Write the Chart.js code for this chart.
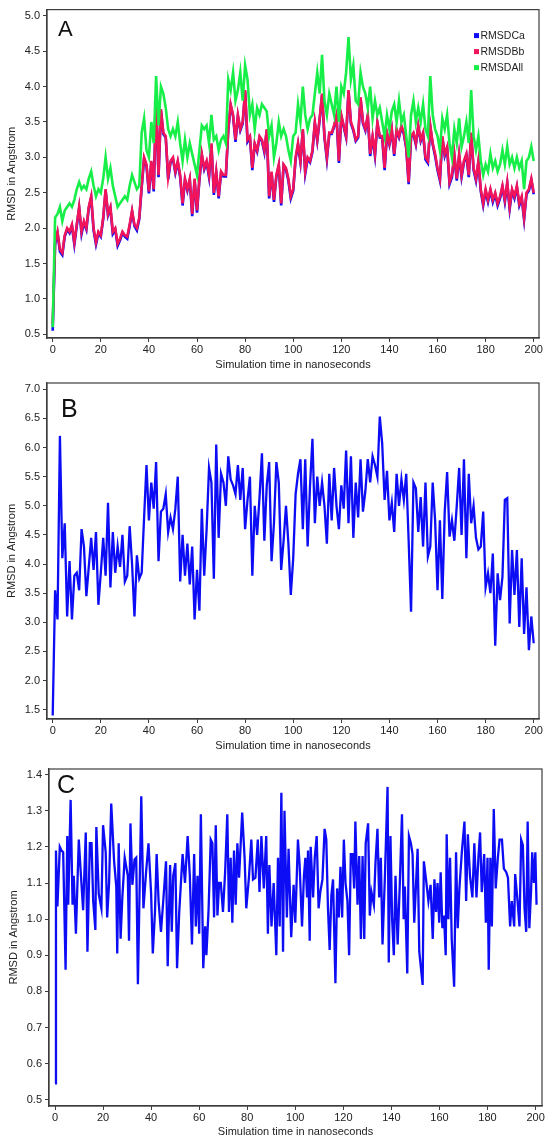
<!DOCTYPE html>
<html>
<head>
<meta charset="utf-8">
<script src="https://cdn.jsdelivr.net/npm/chart.js@4.4.1/dist/chart.umd.min.js"></script>
<style>
  body { margin: 0; background: #fff; }
  .panel { position: absolute; left: 0; width: 550px; }
  #boxA { top: 0; height: 372px; }
  #boxB { top: 372px; height: 381px; }
  #boxC { top: 753px; height: 390px; }
</style>
</head>
<body>
<div class="panel" id="boxA"><canvas id="chartA"></canvas></div>
<div class="panel" id="boxB"><canvas id="chartB"></canvas></div>
<div class="panel" id="boxC"><canvas id="chartC"></canvas></div>
<script>
/////////---------DATA--------////////////////
// panel A and B: one frame per nanosecond, 0..200
const timeNs = Array.from({ length: 201 }, (_, i) => i);

const rmsdCa = [
  0.55,1.78,1.93,1.67,1.62,1.88,1.98,1.93,2.03,1.77,
  2.03,2.28,1.92,2.08,1.98,2.28,2.43,1.97,1.77,1.93,
  1.88,2.13,2.53,2.18,2.28,1.92,1.98,1.75,1.83,1.93,
  1.88,1.85,2.03,2.23,2.03,1.97,2.13,2.58,2.98,2.88,
  2.49,2.93,2.52,3.8,2.72,3.66,3.33,3.28,2.69,2.93,
  2.98,2.78,2.93,2.72,2.32,2.68,2.53,2.68,2.17,2.68,
  2.22,2.68,3.03,2.83,2.93,2.72,3.18,2.47,2.78,2.42,
  2.78,2.73,2.73,3.38,3.73,3.58,3.22,3.58,3.38,3.48,
  3.93,3.22,3.28,2.82,3.18,3.08,3.28,3.23,3.07,3.38,
  2.42,2.78,2.37,2.73,2.88,2.32,2.88,2.83,2.67,2.42,
  2.53,2.98,3.18,2.93,3.38,2.77,2.98,2.93,3.08,3.48,
  3.23,3.53,3.88,3.28,2.97,3.33,3.33,3.43,3.58,2.92,
  3.58,3.43,3.28,3.93,3.48,3.38,3.23,3.28,3.83,3.48,
  3.38,3.58,3.02,3.28,3.02,3.48,3.28,3.28,2.82,3.33,
  3.18,3.38,3.02,3.38,3.28,3.43,3.33,3.13,2.62,3.28,
  3.33,3.18,3.43,3.23,3.33,2.97,2.92,3.43,3.18,3.02,
  2.82,2.67,3.28,3.02,3.13,2.62,2.72,3.02,2.67,3.02,
  2.72,2.93,3.03,2.72,3.33,2.82,2.67,2.93,2.52,2.32,
  2.52,2.37,2.53,2.37,2.48,2.32,2.42,2.58,2.37,2.63,
  2.27,2.53,2.42,2.58,2.32,2.42,2.12,2.48,2.53,2.68,
  2.48
];

const rmsdBb = [
  0.65,1.8,1.95,1.7,1.65,1.9,2.0,1.95,2.05,1.8,
  2.05,2.3,1.95,2.1,2.0,2.3,2.45,2.0,1.8,1.95,
  1.9,2.15,2.55,2.2,2.3,1.95,2.0,1.78,1.85,1.95,
  1.9,1.88,2.05,2.25,2.05,2.0,2.15,2.6,3.0,2.9,
  2.52,2.95,2.55,3.82,2.75,3.68,3.35,3.3,2.72,2.95,
  3.0,2.8,2.95,2.75,2.35,2.7,2.55,2.7,2.2,2.7,
  2.25,2.7,3.05,2.85,2.95,2.75,3.2,2.5,2.8,2.45,
  2.8,2.75,2.75,3.4,3.75,3.6,3.25,3.6,3.4,3.5,
  3.95,3.25,3.3,2.85,3.2,3.1,3.3,3.25,3.1,3.4,
  2.45,2.8,2.4,2.75,2.9,2.35,2.9,2.85,2.7,2.45,
  2.55,3.0,3.2,2.95,3.4,2.8,3.0,2.95,3.1,3.5,
  3.25,3.55,3.9,3.3,3.0,3.35,3.35,3.45,3.6,2.95,
  3.6,3.45,3.3,3.95,3.5,3.4,3.25,3.3,3.85,3.5,
  3.4,3.6,3.05,3.3,3.05,3.5,3.3,3.3,2.85,3.35,
  3.2,3.4,3.05,3.4,3.3,3.45,3.35,3.15,2.65,3.3,
  3.35,3.2,3.45,3.25,3.35,3.0,2.95,3.45,3.2,3.05,
  2.85,2.7,3.3,3.05,3.15,2.65,2.75,3.05,2.7,3.05,
  2.75,2.95,3.05,2.75,3.35,2.85,2.7,2.95,2.55,2.35,
  2.55,2.4,2.55,2.4,2.5,2.35,2.45,2.6,2.4,2.65,
  2.3,2.55,2.45,2.6,2.35,2.45,2.15,2.5,2.55,2.7,
  2.5
];

const rmsdAll = [
  0.6,2.15,2.2,2.3,2.1,2.25,2.3,2.35,2.3,2.4,
  2.55,2.65,2.55,2.6,2.55,2.7,2.8,2.6,2.45,2.55,
  2.5,2.7,3.0,2.7,2.85,2.6,2.45,2.3,2.35,2.4,
  2.45,2.4,2.6,2.75,2.65,2.55,2.6,3.35,3.55,3.1,
  3.0,3.5,3.2,4.15,3.45,4.0,3.9,3.7,3.4,3.3,
  3.4,3.3,3.5,3.2,2.95,3.25,3.0,3.2,3.05,2.9,
  2.75,3.1,3.45,3.4,3.45,3.2,3.6,3.25,3.3,3.1,
  3.25,3.3,3.2,4.1,3.95,4.2,3.8,3.95,4.2,3.8,
  4.3,4.1,3.6,3.75,3.4,3.7,3.6,3.75,3.7,3.65,
  3.3,3.45,3.0,3.2,3.5,3.3,3.4,3.3,3.1,2.95,
  3.3,3.35,3.75,3.5,4.0,3.6,3.4,3.55,3.6,3.9,
  4.2,3.9,4.45,3.8,3.6,3.9,3.75,3.6,4.0,3.5,
  4.0,3.9,4.2,4.7,4.1,4.3,3.8,3.75,4.2,4.0,
  3.9,3.7,4.0,3.55,3.8,3.6,3.7,3.5,3.3,3.6,
  3.4,3.65,3.75,3.5,3.8,3.5,3.6,3.3,3.0,3.6,
  3.8,3.5,3.7,3.5,3.75,3.4,3.3,4.15,3.6,3.4,
  3.3,3.1,3.55,3.4,3.6,3.2,3.0,3.4,3.2,3.55,
  3.15,3.3,3.5,3.2,3.95,3.3,3.1,3.3,2.95,2.75,
  2.9,2.8,3.05,2.85,2.95,2.8,2.9,3.1,2.9,3.15,
  2.9,3.0,2.85,3.0,2.85,2.95,2.55,2.95,3.0,3.15,
  2.95
];

const rmsdB = [
  1.4,3.55,3.05,6.2,4.1,4.7,3.1,4.05,3.05,3.8,
  3.85,3.55,4.6,4.3,3.45,3.95,4.45,3.9,4.55,3.3,
  3.85,4.45,3.8,5.05,3.6,4.55,3.85,4.3,3.95,4.5,
  3.7,3.8,4.65,4.0,3.1,4.15,3.75,3.85,4.8,5.7,
  4.75,5.4,4.95,5.75,4.05,4.9,4.95,5.2,4.55,4.8,
  4.6,4.95,5.5,3.7,4.5,3.8,4.35,3.65,4.3,3.05,
  3.9,3.2,4.95,3.8,4.6,5.65,5.4,3.75,6.05,4.45,
  5.55,5.4,5.0,5.85,5.45,5.35,5.2,5.7,5.1,5.65,
  4.6,5.1,5.5,3.8,5.0,4.5,5.15,5.9,4.4,5.35,
  5.75,4.05,4.7,5.75,5.4,3.9,4.4,5.0,4.35,3.47,
  4.1,5.2,5.55,5.8,4.6,5.8,4.3,5.35,6.15,4.7,
  5.5,5.0,5.4,5.0,4.35,5.55,4.75,5.65,5.0,4.6,
  5.35,4.95,5.95,4.7,5.85,4.45,5.4,4.8,5.8,4.9,
  5.25,5.8,5.4,5.85,5.7,5.5,6.53,6.07,5.1,5.6,
  4.75,5.05,4.55,5.55,5.0,5.45,5.1,5.55,4.4,3.18,
  5.4,5.3,4.55,5.15,4.3,5.4,4.13,4.3,5.4,4.75,
  3.55,4.75,3.4,4.9,5.58,4.47,4.75,4.4,5.0,5.65,
  4.5,5.8,4.1,5.55,4.7,5.0,4.45,4.25,4.3,4.9,
  3.6,3.84,3.5,4.18,2.6,3.84,3.38,3.78,5.1,5.13,
  2.98,4.24,3.47,4.24,2.92,4.1,2.8,3.6,2.52,3.1,
  2.64
];

const timeC = [
  0,0.4,1,2,2.7,3.4,4.4,5.1,5.5,6.5,
  7.3,7.8,8.7,9.9,10.8,11.7,12.8,13.5,14.5,15.2,
  15.9,16.8,17.2,18.2,19.3,20,21.1,21.7,22.5,23.4,
  24.6,25.5,25.9,26.5,27.3,28,29,30.3,30.8,31.4,
  32.2,33.1,33.8,34.5,35.9,36.8,37.9,38.9,40,40.7,
  41.6,42.3,43.1,44.1,45.1,46.2,46.9,47.9,48.6,49.2,
  50.1,50.8,51.7,53.1,54.1,55.2,56.1,57,57.9,58.6,
  59.3,60,60.7,61.7,62.5,63,63.9,64.8,65.5,66.2,
  66.9,67.6,68.3,69,69.9,70.8,71.7,72.4,73.1,73.8,
  74.5,75.2,75.9,76.6,77.9,78.9,79.6,80.7,81.7,82.4,
  83.4,84.4,85.1,85.9,86.9,87.9,88.6,89.2,90.1,91,
  92.1,92.8,93.5,94.2,94.9,95.5,96.5,97.2,98.3,99.3,
  100,101.1,101.8,102.8,103.6,104.2,104.9,105.3,106,106.4,
  107.4,108.1,108.9,109.7,110.4,111.3,112.2,112.9,113.6,114.3,
  115,115.7,116.7,117.4,118.1,118.8,119.5,120.2,120.9,121.7,
  122.4,123.1,123.8,124.5,125,125.9,126.6,127.3,128,128.7,
  129.3,130.3,131,131.7,132.7,133.4,134.2,134.9,135.6,136.3,
  137.3,138.4,138.9,139.6,140.3,141,141.7,142.6,143.5,144.4,
  145.1,145.6,146.6,147.3,148.1,148.8,149.5,150.2,150.9,151.6,
  153,153.5,154.4,155.4,156.3,157.2,157.9,158.6,159.2,159.9,
  160.5,161.2,161.9,162.6,163,163.7,164.4,165.1,166.1,166.9,
  167.6,168.3,169.3,170.4,171.1,171.8,172.7,173.7,174.5,175.4,
  176.2,176.9,177.6,178.6,179.3,180,180.5,181.2,181.8,182.6,
  183.4,184.3,185,186,186.8,187.8,188.5,189.4,190.1,191.1,
  191.5,192.5,193.3,194,194.7,195.4,196.1,196.7,197.4,198.1,
  198.6,199.3,199.9,200.4
];

const rmsdC = [
  0.546,1.19,1.035,1.2,1.19,1.185,0.86,1.23,1.04,1.33,
  1.04,1.12,0.96,1.22,1.12,1.025,1.24,0.91,1.21,1.21,
  1.05,0.97,1.255,1.07,1.03,1.26,1.185,1.005,1.1,1.32,
  1.16,1.09,0.905,1.21,0.946,1.057,1.17,1.12,0.94,1.265,
  1.095,1.165,1.17,0.82,1.34,1.03,1.13,1.21,1.07,0.905,
  1.02,1.18,1.05,0.965,1.055,1.16,0.87,1.15,0.965,1.12,
  1.155,0.864,1.02,1.18,1.1,1.23,1.12,0.93,1.18,0.98,
  1.12,0.96,1.29,0.864,0.98,0.9,1.025,1.22,1.21,1.005,
  1.26,1.01,1.1,1.1,1.02,1.13,1.29,1.02,1.17,0.99,
  1.19,1.04,1.21,1.115,1.295,1.17,1.03,1.115,1.22,1.11,
  1.115,1.22,1.075,1.23,1.085,1.23,0.96,1.15,0.98,1.1,
  0.9,1.17,0.98,1.35,0.91,1.3,1.005,1.195,0.95,1.095,
  0.99,1.22,1.15,0.98,1.12,1.17,1.06,1.19,0.94,1.2,
  1.06,1.17,1.23,1.03,1.075,1.11,1.25,1.22,1.03,0.915,
  1.065,1.11,0.823,1.085,1.005,1.145,1.005,1.22,1.1,1.05,
  0.9,1.18,1.18,1.085,1.27,1.04,1.175,0.945,1.175,0.945,
  1.21,1.265,1.01,1.075,1.04,1.16,1.25,1.06,1.17,0.93,
  1.12,1.366,0.88,1.23,1.0,0.9,1.12,0.93,1.1,1.29,
  1.0,1.09,0.85,1.23,1.21,1.18,0.99,1.09,1.195,0.91,
  0.818,1.16,1.11,1.05,1.095,0.945,1.11,1.02,1.1,0.99,
  1.13,0.975,1.01,0.9,1.235,1.0,1.17,0.945,0.813,1.185,
  0.975,1.085,1.185,1.27,1.05,1.235,1.12,1.06,1.21,1.06,
  1.17,1.24,1.075,1.18,0.99,1.17,0.86,1.17,0.98,1.305,
  1.085,1.17,1.22,1.22,1.14,1.13,1.115,0.98,1.05,0.98,
  1.125,1.05,0.98,1.22,1.205,1.03,0.965,1.27,0.975,1.075,
  1.185,1.1,1.185,1.04
];

const xTicksNs = [0, 20, 40, 60, 80, 100, 120, 140, 160, 180, 200];

/////////---------HELPERS--------////////////////
const FONT = 'Arial, "Liberation Sans", sans-serif';
Chart.defaults.font.family = FONT;
Chart.defaults.font.size = 11;
Chart.defaults.color = "#222";

const toPoints = (xs, ys) => ys.map((y, i) => ({ x: xs[i], y: y }));

// box round the plot, panel letter and the small legend inside panel A
const framePlugin = {
  id: "frame",
  afterDraw(chart, args, opts) {
    const { ctx, chartArea: a } = chart;
    ctx.save();
    ctx.strokeStyle = "#3c3c3c";
    ctx.lineWidth = 1.2;
    ctx.strokeRect(a.left, a.top, a.right - a.left, a.bottom - a.top);
    ctx.fillStyle = "#111";
    ctx.font = opts.letterSize + "px " + FONT;
    ctx.textBaseline = "alphabetic";
    ctx.fillText(opts.letter, a.left + opts.letterDx, a.top + opts.letterDy);
    if (opts.legend) {
      ctx.font = "10.5px " + FONT;
      ctx.textBaseline = "middle";
      chart.data.datasets.forEach((ds, i) => {
        const y = a.top + 26 + i * 16;
        const x = a.right - 65;
        ctx.fillStyle = ds.borderColor;
        ctx.fillRect(x, y - 2.5, 5, 5);
        ctx.fillStyle = "#222";
        ctx.fillText(ds.label, x + 6.5, y + 0.5);
      });
    }
    ctx.restore();
  },
};

function axes(xMin, xMax, yMin, yMax, yStep, yWidth, xHeight) {
  const tickGrid = {
    drawOnChartArea: false,
    drawTicks: true,
    tickLength: 4,
    color: "#3c3c3c",
  };
  return {
    x: {
      type: "linear",
      min: xMin,
      max: xMax,
      afterBuildTicks: (s) => { s.ticks = xTicksNs.map((v) => ({ value: v })); },
      afterFit: (s) => { s.height = xHeight; },
      ticks: { padding: 1, maxRotation: 0, autoSkip: false, font: { size: 11 } },
      grid: tickGrid,
      border: { display: true, color: "#3c3c3c", width: 1.2 },
      title: {
        display: true,
        text: "Simulation time in nanoseconds",
        padding: 0,
        font: { size: 11 },
      },
    },
    y: {
      min: yMin,
      max: yMax,
      afterFit: (s) => { s.width = yWidth; },
      ticks: {
        stepSize: yStep,
        includeBounds: false,
        padding: 3,
        font: { size: 11 },
        callback: (v) => v.toFixed(1),
      },
      grid: tickGrid,
      border: { display: true, color: "#3c3c3c", width: 1.2 },
      title: {
        display: true,
        text: "RMSD in Angstrom",
        padding: 0,
        font: { size: 11 },
      },
    },
  };
}

function lineSet(label, xs, ys, color, width, order) {
  return {
    label: label,
    data: toPoints(xs, ys),
    borderColor: color,
    backgroundColor: color,
    borderWidth: width,
    pointRadius: 0,
    tension: 0,
    fill: false,
    order: order,
  };
}

/////////---------CHARTS--------////////////////
// A: three RMSD traces
new Chart(document.getElementById("chartA"), {
  type: "line",
  data: {
    datasets: [
      lineSet("RMSDCa", timeNs, rmsdCa, "#0c0cf5", 2.6, 2),
      lineSet("RMSDBb", timeNs, rmsdBb, "#f2145a", 2.6, 1),
      lineSet("RMSDAll", timeNs, rmsdAll, "#17ee48", 2.6, 0),
    ],
  },
  options: {
    responsive: true,
    maintainAspectRatio: false,
    animation: false,
    layout: { padding: { top: 6, right: 11, left: 5, bottom: 0 } },
    scales: axes(-2.37, 202.2, 0.448, 5.088, 0.5, 42, 34),
    plugins: {
      legend: { display: false },
      tooltip: { enabled: false },
      frame: { letter: "A", letterSize: 22, letterDx: 11, letterDy: 26, legend: true },
    },
  },
  plugins: [framePlugin],
});

// B
new Chart(document.getElementById("chartB"), {
  type: "line",
  data: {
    datasets: [lineSet("RMSD", timeNs, rmsdB, "#0c0cf5", 2.3, 0)],
  },
  options: {
    responsive: true,
    maintainAspectRatio: false,
    animation: false,
    layout: { padding: { top: 11, right: 11, left: 5, bottom: 0 } },
    scales: axes(-2.37, 202.2, 1.34, 7.108, 0.5, 42, 34),
    plugins: {
      legend: { display: false },
      tooltip: { enabled: false },
      frame: { letter: "B", letterSize: 25, letterDx: 14, letterDy: 34, legend: false },
    },
  },
  plugins: [framePlugin],
});

// C
new Chart(document.getElementById("chartC"), {
  type: "line",
  data: {
    datasets: [lineSet("RMSD", timeC, rmsdC, "#0c0cf5", 2.3, 0)],
  },
  options: {
    responsive: true,
    maintainAspectRatio: false,
    animation: false,
    layout: { padding: { top: 16, right: 8, left: 7, bottom: 4 } },
    scales: axes(-2.5, 202.67, 0.483, 1.4155, 0.1, 42, 33),
    plugins: {
      legend: { display: false },
      tooltip: { enabled: false },
      frame: { letter: "C", letterSize: 25, letterDx: 8, letterDy: 24, legend: false },
    },
  },
  plugins: [framePlugin],
});
</script>
</body>
</html>
